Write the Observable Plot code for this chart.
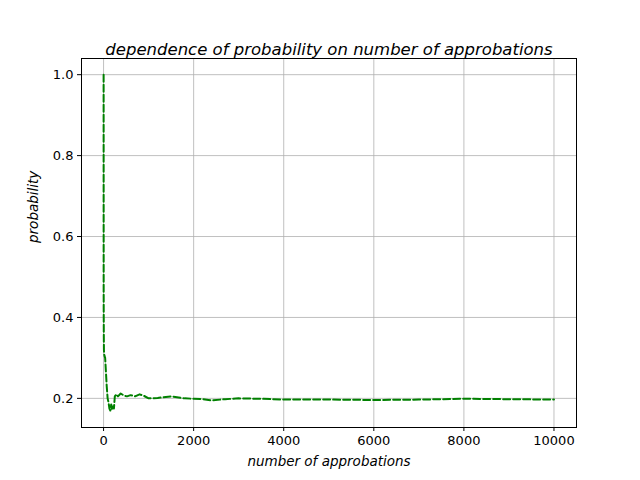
<!DOCTYPE html>
<html><head><meta charset="utf-8">
<script src="https://cdn.jsdelivr.net/npm/d3@7"></script>
<script src="https://cdn.jsdelivr.net/npm/@observablehq/plot@0.6"></script>
<style>body{margin:0;background:#fff}</style>
</head><body><div id="c"></div>
<script>
const approbations = [1, 2, 3, 5, 8, 12, 20, 35, 50, 70, 90, 110, 130, 150, 170, 190, 210, 230, 250, 280, 320, 380, 450, 520, 600, 700, 800, 900, 1000, 1200, 1500, 1800, 2000, 2200, 2400, 2700, 3000, 3500, 4000, 5000, 6000, 7000, 8000, 9000, 10000];
const probability = [1.0, 0.47, 0.42, 0.36, 0.32, 0.31, 0.305, 0.30, 0.27, 0.23, 0.20, 0.19, 0.175, 0.17, 0.185, 0.172, 0.18, 0.175, 0.205, 0.21, 0.205, 0.212, 0.207, 0.205, 0.208, 0.205, 0.21, 0.206, 0.20, 0.201, 0.205, 0.2, 0.199, 0.198, 0.195, 0.198, 0.2, 0.199, 0.197, 0.197, 0.196, 0.197, 0.199, 0.198, 0.197];
const xTicks = [0, 2000, 4000, 6000, 8000, 10000];
const yTicks = [0.2, 0.4, 0.6, 0.8, 1.0];
const data = approbations.map((x, i) => ({x, y: probability[i]}));
const plot = Plot.plot({
  width: 640, height: 480,
  marginLeft: 81, marginRight: 64, marginTop: 58, marginBottom: 53,
  style: {fontFamily: "DejaVu Sans", fontSize: "13px", color: "#000", background: "#fff"},
  x: {domain: [-490, 10500], ticks: xTicks, tickFormat: d => String(d), label: null},
  y: {domain: [0.128, 1.04], ticks: yTicks, tickFormat: d => d.toFixed(1), label: null},
  marks: [
    Plot.gridX(xTicks, {stroke: "#b0b0b0", strokeOpacity: 1, strokeWidth: 0.8}),
    Plot.gridY(yTicks, {stroke: "#b0b0b0", strokeOpacity: 1, strokeWidth: 0.8}),
    Plot.axisX(xTicks, {tickSize: 4, tickPadding: 4, fontSize: 13, tickFormat: d => String(d), label: null}),
    Plot.axisY(yTicks, {tickSize: 4, tickPadding: 4, fontSize: 13, tickFormat: d => d.toFixed(1), label: null}),
    Plot.line(data, {x: "x", y: "y", stroke: "green", strokeWidth: 2, strokeDasharray: "7,3"}),
    Plot.frame({stroke: "#000", strokeWidth: 1}),
    Plot.text(["dependence of probability on number of approbations"], {frameAnchor: "top", dy: -15, fontSize: 16.5, fontStyle: "italic", fill: "#000", textAnchor: "middle"}),
    Plot.text(["number of approbations"], {frameAnchor: "bottom", dy: 38, fontSize: 13.5, fontStyle: "italic", fill: "#000"}),
    Plot.text(["probability"], {frameAnchor: "left", dx: -48, rotate: -90, fontSize: 13.5, fontStyle: "italic", fill: "#000"})
  ]
});
document.getElementById("c").append(plot);
</script></body></html>
